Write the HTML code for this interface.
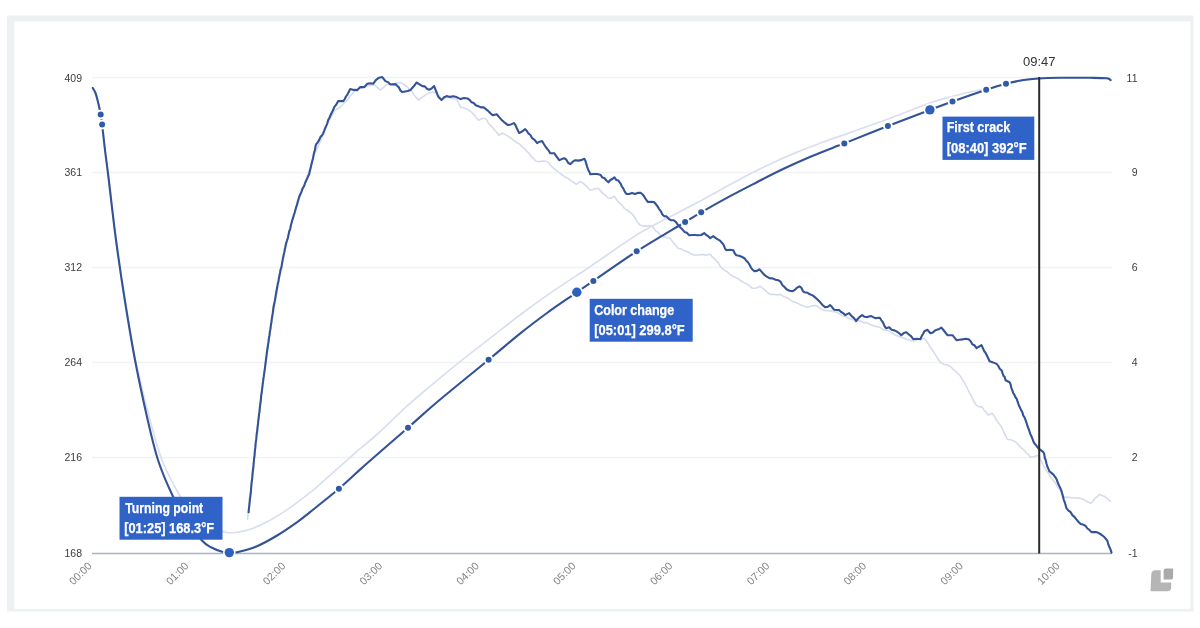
<!DOCTYPE html>
<html><head><meta charset="utf-8"><title>Roast chart</title>
<style>
html,body{margin:0;padding:0;background:#fff;}
body{width:1200px;height:628px;position:relative;overflow:hidden;font-family:"Liberation Sans",sans-serif;}
svg text{font-family:"Liberation Sans",sans-serif;}
.tip{position:absolute;height:43.4px;background:#2e63c8;color:#fff;font-weight:bold;font-size:13px;line-height:20.6px;box-sizing:border-box;padding:0.6px 0 0 5px;letter-spacing:-0.28px;-webkit-text-stroke:0.25px #fff;white-space:nowrap;}
</style></head><body>
<svg width="1200" height="628" viewBox="0 0 1200 628" style="position:absolute;left:0;top:0;filter:blur(0.35px)">
<rect x="7" y="15.5" width="1186.5" height="596" fill="#eef1f2"/>
<rect x="14.3" y="21.5" width="1176" height="587.3" fill="#ffffff"/>
<line x1="92" x2="1112" y1="77.5" y2="77.5" stroke="#f0f2f3" stroke-width="1.6"/>
<line x1="92" x2="1112" y1="172.5" y2="172.5" stroke="#f0f2f3" stroke-width="1.6"/>
<line x1="92" x2="1112" y1="267.5" y2="267.5" stroke="#f0f2f3" stroke-width="1.6"/>
<line x1="92" x2="1112" y1="362.5" y2="362.5" stroke="#f0f2f3" stroke-width="1.6"/>
<line x1="92" x2="1112" y1="457.5" y2="457.5" stroke="#f0f2f3" stroke-width="1.6"/>
<line x1="92" x2="1112" y1="553.5" y2="553.5" stroke="#a9b4c6" stroke-width="1.6"/>
<text x="82" y="81.5" text-anchor="end" font-size="10.5" fill="#3c3c3c">409</text>
<text x="1137.5" y="81.5" text-anchor="end" font-size="10.5" fill="#3c3c3c">11</text>
<text x="82" y="176.4" text-anchor="end" font-size="10.5" fill="#3c3c3c">361</text>
<text x="1137.5" y="176.4" text-anchor="end" font-size="10.5" fill="#3c3c3c">9</text>
<text x="82" y="271.4" text-anchor="end" font-size="10.5" fill="#3c3c3c">312</text>
<text x="1137.5" y="271.4" text-anchor="end" font-size="10.5" fill="#3c3c3c">6</text>
<text x="82" y="366.4" text-anchor="end" font-size="10.5" fill="#3c3c3c">264</text>
<text x="1137.5" y="366.4" text-anchor="end" font-size="10.5" fill="#3c3c3c">4</text>
<text x="82" y="461.4" text-anchor="end" font-size="10.5" fill="#3c3c3c">216</text>
<text x="1137.5" y="461.4" text-anchor="end" font-size="10.5" fill="#3c3c3c">2</text>
<text x="82" y="556.5" text-anchor="end" font-size="10.5" fill="#3c3c3c">168</text>
<text x="1137.5" y="556.5" text-anchor="end" font-size="10.5" fill="#3c3c3c">-1</text>
<text transform="translate(92.5,566.6) rotate(-45)" text-anchor="end" font-size="10.7" fill="#858585">00:00</text>
<text transform="translate(189.3,566.6) rotate(-45)" text-anchor="end" font-size="10.7" fill="#858585">01:00</text>
<text transform="translate(286.1,566.6) rotate(-45)" text-anchor="end" font-size="10.7" fill="#858585">02:00</text>
<text transform="translate(382.9,566.6) rotate(-45)" text-anchor="end" font-size="10.7" fill="#858585">03:00</text>
<text transform="translate(479.7,566.6) rotate(-45)" text-anchor="end" font-size="10.7" fill="#858585">04:00</text>
<text transform="translate(576.5,566.6) rotate(-45)" text-anchor="end" font-size="10.7" fill="#858585">05:00</text>
<text transform="translate(673.3,566.6) rotate(-45)" text-anchor="end" font-size="10.7" fill="#858585">06:00</text>
<text transform="translate(770.1,566.6) rotate(-45)" text-anchor="end" font-size="10.7" fill="#858585">07:00</text>
<text transform="translate(866.9,566.6) rotate(-45)" text-anchor="end" font-size="10.7" fill="#858585">08:00</text>
<text transform="translate(963.7,566.6) rotate(-45)" text-anchor="end" font-size="10.7" fill="#858585">09:00</text>
<text transform="translate(1060.5,566.6) rotate(-45)" text-anchor="end" font-size="10.7" fill="#858585">10:00</text>
<polyline points="247.6,519.3 247.9,516.0 248.3,512.7 248.6,510.4 249.0,506.5 249.3,504.1 249.7,500.9 250.0,498.0 250.3,494.3 250.7,491.8 251.0,488.0 251.3,485.5 251.7,481.8 252.0,478.8 252.3,476.1 252.7,473.6 253.0,470.0 253.3,466.5 253.6,463.6 253.9,461.2 254.2,458.6 254.5,455.1 254.8,451.9 255.1,449.7 255.4,445.4 255.7,443.5 256.0,440.0 256.4,436.5 256.7,433.1 257.1,429.9 257.5,427.0 257.8,424.5 258.2,420.5 258.5,417.8 258.9,414.7 259.3,411.2 259.6,408.2 260.0,405.0 260.4,401.4 260.8,398.4 261.2,395.6 261.6,393.3 262.0,389.9 262.4,386.7 262.8,384.1 263.2,380.9 263.6,377.7 264.0,375.4 264.4,372.3 264.8,368.6 265.2,366.1 265.6,363.0 266.0,360.0 266.5,357.4 266.9,354.2 267.4,350.5 267.8,348.4 268.3,344.1 268.8,341.4 269.2,338.8 269.7,334.9 270.2,332.3 270.6,328.6 271.1,326.4 271.5,323.4 272.0,320.0 272.5,316.9 273.1,314.2 273.6,310.2 274.2,307.5 274.7,304.2 275.3,301.0 275.8,297.7 276.4,295.0 276.9,292.0 277.5,288.1 278.0,285.0 278.6,282.0 279.3,278.0 279.9,275.7 280.5,272.5 281.2,269.8 281.8,266.4 282.5,262.4 283.1,259.4 283.7,256.6 284.4,252.5 285.0,250.0 285.8,246.8 286.6,243.3 287.3,240.1 288.1,236.9 288.9,234.8 289.7,230.8 290.4,227.9 291.2,225.0 292.0,222.0 292.9,219.6 293.8,215.7 294.6,213.3 295.5,210.6 296.4,208.2 297.2,205.2 298.1,202.4 299.0,199.0 300.2,195.7 301.3,192.9 302.5,189.8 303.7,187.5 304.8,184.6 306.0,181.0 306.9,177.6 307.8,174.8 308.6,172.0 309.5,169.1 310.4,166.6 311.2,163.9 312.1,160.5 313.0,158.0 314.4,154.1 315.8,151.5 317.2,148.2 318.6,145.3 320.0,142.0 321.2,139.8 322.3,136.6 323.5,133.5 324.7,130.8 325.8,128.1 327.0,125.0 328.4,121.4 329.9,119.6 331.3,116.5 332.8,113.7 334.2,110.2 337.2,109.1 340.2,107.2 342.9,104.3 345.5,101.7 348.2,99.1 350.2,95.9 352.3,94.0 354.3,91.1 357.6,88.9 361.0,88.0 364.5,86.4 368.0,86.0 371.1,85.1 374.3,85.1 377.3,87.1 380.3,90.1 383.0,87.9 385.7,85.5 388.4,84.1 394.0,84.0 397.2,82.6 400.4,82.5 403.1,83.9 405.7,85.7 408.4,88.1 410.4,90.3 412.4,92.2 414.5,95.8 416.5,97.9 418.5,100.1 421.0,97.9 423.5,96.3 426.0,94.6 428.5,93.1 432.5,92.4 436.5,92.1 438.8,95.0 441.0,99.0 444.5,98.5 448.0,97.0 452.3,98.7 456.6,99.1 457.9,101.8 459.3,104.5 460.6,107.2 463.9,108.0 467.3,109.3 470.6,111.2 472.6,113.2 474.6,115.4 476.7,118.4 478.7,120.2 481.7,118.7 484.7,118.2 486.7,120.0 488.7,123.7 490.7,125.6 492.7,127.5 494.7,130.5 496.7,132.2 498.7,135.3 502.8,133.2 508.0,136.1 511.0,138.2 514.0,140.8 517.0,142.7 520.0,144.2 522.3,146.9 524.6,148.7 526.9,151.3 529.2,153.4 531.5,156.7 533.8,158.8 536.1,161.2 539.5,161.6 542.8,161.0 546.2,161.2 548.5,162.8 550.9,165.7 553.2,167.9 555.5,169.8 557.9,171.7 560.2,173.3 562.9,175.6 565.6,177.3 568.2,178.4 570.9,180.7 573.6,182.3 576.3,184.3 580.3,181.3 582.8,182.9 585.3,185.1 587.8,187.7 590.3,190.3 594.3,189.0 598.3,188.3 600.8,191.1 603.3,193.9 605.9,195.7 608.4,198.3 611.4,197.9 614.4,196.3 616.4,199.4 618.4,201.8 620.4,203.4 622.4,205.6 624.4,208.4 627.1,210.0 629.8,212.0 632.5,214.4 634.5,217.0 636.5,220.6 638.5,223.4 640.0,225.1 643.0,225.9 646.0,226.1 649.0,225.8 652.0,226.1 654.0,228.6 656.0,231.1 658.1,232.3 660.1,235.2 663.4,236.4 666.8,237.8 670.1,238.2 672.1,241.1 674.1,243.6 676.1,245.7 678.1,248.2 681.1,248.9 684.1,250.9 687.2,251.5 690.2,253.3 693.2,254.7 696.2,255.2 699.7,254.8 703.2,254.6 706.7,255.1 710.2,254.2 712.2,256.8 714.2,258.3 716.2,260.6 718.3,262.9 720.3,266.3 722.3,268.4 724.3,270.3 727.0,271.5 729.6,274.1 732.3,276.0 735.0,277.2 737.6,278.4 740.3,280.3 743.3,282.4 746.3,283.8 749.4,285.6 752.4,288.3 756.4,288.0 760.4,286.3 762.9,288.5 765.4,290.4 767.9,293.0 770.4,294.4 773.8,294.3 777.1,294.9 780.5,294.4 783.5,296.6 786.5,297.5 789.5,299.3 792.5,301.4 795.3,302.3 798.1,303.4 801.0,305.1 803.8,305.9 806.6,307.4 810.6,306.3 814.6,305.4 817.9,306.6 821.3,309.3 824.6,310.4 828.4,310.7 832.2,311.4 836.0,312.0 839.0,313.6 842.0,315.6 845.0,316.4 848.0,318.0 851.0,319.4 854.0,319.6 857.1,320.4 860.1,321.1 863.6,322.4 867.0,322.9 870.5,324.7 874.0,326.0 877.0,326.6 880.1,327.4 883.2,329.6 886.2,330.2 889.0,331.1 891.7,332.9 894.5,334.6 897.2,335.7 900.0,337.0 903.0,337.8 906.0,339.0 909.0,340.1 912.0,341.0 915.1,340.7 918.2,339.0 921.3,339.0 924.4,338.2 926.4,340.8 928.4,343.9 930.4,347.6 932.4,350.2 934.4,353.2 936.4,356.3 938.4,359.6 940.4,362.3 943.7,364.2 947.1,364.9 950.4,366.3 952.9,369.0 955.5,371.3 958.0,373.8 960.5,376.3 962.5,379.9 964.5,383.0 966.5,386.4 968.1,390.0 969.7,393.1 971.3,396.0 972.9,399.7 974.5,402.4 976.1,405.1 979.1,406.6 982.1,407.1 984.1,410.4 986.2,412.1 988.2,415.1 992.2,413.1 994.2,416.2 996.2,419.7 998.2,422.6 1000.2,425.1 1001.6,427.4 1003.0,430.2 1004.4,433.5 1005.8,435.8 1007.2,439.2 1010.8,439.8 1014.3,441.2 1016.8,442.9 1019.3,445.9 1021.8,448.3 1024.3,450.2 1026.3,453.1 1028.3,454.4 1030.3,457.2 1034.3,456.5 1038.3,455.2 1039.8,458.4 1041.3,460.8 1042.9,464.8 1044.4,467.3 1046.4,471.0 1048.4,472.9 1050.4,476.9 1052.4,479.3 1054.4,481.9 1056.4,484.8 1058.4,488.2 1060.4,490.3 1062.4,494.3 1064.4,497.4 1067.6,497.1 1070.8,497.7 1074.1,498.0 1077.3,498.0 1080.5,498.4 1083.8,499.6 1087.2,501.5 1090.5,503.4 1092.8,501.5 1095.0,498.2 1097.2,496.7 1099.5,494.4 1104.6,496.4 1107.6,498.8 1110.6,501.4" fill="none" stroke="#d7dcec" stroke-width="1.6" stroke-linejoin="round" stroke-linecap="round"/>
<path d="M92.8,88.0 C93.2,88.8 94.6,90.7 95.5,93.0 C96.4,95.3 97.1,98.4 98.0,102.0 C98.9,105.6 100.0,110.8 100.7,114.6 C101.4,118.4 101.4,118.7 102.1,124.6 C102.8,130.5 103.9,140.8 105.0,150.0 C106.1,159.2 107.0,165.0 108.8,180.0 C110.6,195.0 113.3,220.0 116.0,240.0 C118.7,260.0 121.5,280.0 124.8,300.0 C128.1,320.0 131.3,340.0 135.5,360.0 C139.7,380.0 145.6,403.3 150.0,420.0 C154.4,436.7 157.1,447.5 162.0,460.0 C166.9,472.5 174.1,486.0 179.4,495.0 C184.7,504.0 189.1,508.8 194.0,514.0 C198.9,519.2 203.8,523.0 209.0,526.0 C214.2,529.0 220.5,531.0 224.9,532.1 C229.3,533.2 231.1,533.0 235.6,532.5 C240.1,532.0 245.9,530.9 251.7,528.8 C257.5,526.7 263.9,523.7 270.4,520.1 C276.9,516.5 283.9,512.0 290.5,507.4 C297.1,502.8 305.0,496.6 310.0,492.7 C315.0,488.8 314.2,489.2 320.4,483.8 C326.6,478.4 340.6,466.0 347.2,460.1 C353.8,454.2 354.9,453.1 360.0,448.7 C365.1,444.3 369.7,441.1 377.5,434.0 C385.3,426.9 397.5,414.6 406.9,406.2 C416.2,397.8 424.7,390.9 433.6,383.4 C442.5,375.9 453.7,366.8 460.4,361.4 C467.1,356.0 468.3,355.2 473.8,350.9 C479.3,346.6 485.8,341.6 493.5,335.6 C501.2,329.6 511.4,321.5 520.3,314.8 C529.2,308.1 538.1,301.6 547.0,295.4 C555.9,289.2 567.4,281.6 573.8,277.4 C580.2,273.2 580.8,272.9 585.2,270.0 C589.6,267.1 590.9,265.9 600.1,259.7 C609.3,253.5 626.9,240.9 640.3,232.8 C653.7,224.8 669.9,217.0 680.4,211.4 C690.9,205.8 697.0,202.8 703.1,199.5 C709.2,196.2 710.1,195.6 716.8,191.9 C723.5,188.2 734.6,181.9 743.5,177.2 C752.4,172.5 761.4,168.1 770.3,163.9 C779.2,159.7 788.1,155.8 797.0,152.1 C805.9,148.4 815.0,145.1 823.8,141.8 C832.6,138.6 839.3,136.4 850.0,132.6 C860.7,128.8 874.7,123.9 888.0,119.0 C901.3,114.1 919.3,106.8 930.0,103.0 C940.7,99.2 945.0,98.4 952.0,96.5 C959.0,94.6 965.7,92.9 972.0,91.5 C978.3,90.1 984.3,89.3 990.0,88.0 C995.7,86.7 1000.7,85.0 1006.0,83.7 C1011.3,82.4 1016.6,81.2 1022.0,80.3 C1027.4,79.4 1035.8,78.8 1038.5,78.5" fill="none" stroke="#dadff0" stroke-width="1.7" stroke-linecap="round"/>
<polyline points="248.6,512.3 248.9,508.7 249.2,506.6 249.4,504.4 249.7,501.6 250.0,498.1 250.3,497.0 250.6,494.0 250.9,491.6 251.2,487.4 251.4,485.0 251.7,481.9 252.0,480.0 252.3,477.8 252.5,474.1 252.8,471.2 253.1,469.0 253.4,467.1 253.6,464.2 253.9,460.5 254.2,457.6 254.5,456.2 254.7,452.9 255.0,450.0 255.3,447.7 255.6,443.9 255.9,441.2 256.2,439.7 256.5,436.5 256.8,433.2 257.1,432.1 257.4,428.9 257.7,426.0 258.0,423.8 258.4,419.7 258.7,418.3 259.0,414.1 259.4,412.8 259.7,409.3 260.0,406.3 260.3,403.9 260.7,401.8 261.0,397.9 261.3,394.9 261.7,392.8 262.0,390.0 262.4,386.9 262.7,384.0 263.1,381.4 263.4,378.6 263.8,376.2 264.1,373.8 264.5,371.1 264.8,369.3 265.2,365.8 265.5,363.5 265.9,360.3 266.2,358.0 266.6,354.7 266.9,352.5 267.3,349.4 267.6,348.1 268.0,345.0 268.4,342.5 268.8,339.2 269.1,337.2 269.5,335.4 269.9,331.3 270.3,330.0 270.7,326.7 271.0,324.2 271.4,322.2 271.8,318.8 272.2,316.4 272.6,314.1 272.9,312.1 273.3,308.3 273.7,306.0 274.2,303.8 274.8,300.9 275.3,298.0 275.8,294.8 276.3,292.0 276.9,288.7 277.4,286.1 277.9,283.2 278.4,281.7 278.9,278.1 279.5,275.1 280.0,273.0 280.5,269.7 281.1,268.5 281.6,266.0 282.1,263.0 282.7,259.8 283.2,257.1 283.7,254.7 284.3,252.4 284.8,249.3 285.3,247.2 285.9,244.3 286.4,242.2 287.1,240.3 287.9,237.7 288.6,234.2 289.3,231.0 290.1,229.6 290.8,225.7 291.5,223.1 292.3,219.8 293.0,218.0 293.8,215.2 294.6,212.8 295.3,210.3 296.1,207.2 296.9,205.2 297.7,201.8 298.4,199.7 299.2,196.8 300.0,195.0 301.4,191.8 302.7,188.2 304.1,186.0 305.4,182.2 306.6,179.8 307.9,176.8 309.1,174.4 309.7,171.8 310.4,169.0 311.0,166.6 311.6,163.7 312.3,161.1 312.9,158.7 313.6,155.0 314.2,152.2 314.8,150.6 315.5,146.4 316.1,144.3 317.6,142.5 319.1,140.1 320.6,136.7 322.1,135.3 323.1,133.5 324.1,131.1 325.1,128.2 326.2,125.9 327.2,123.6 328.2,120.0 329.2,118.2 330.4,115.5 331.7,112.7 332.9,110.6 334.2,107.2 336.2,104.7 338.2,101.1 343.2,101.1 344.6,99.3 346.0,96.5 347.4,94.6 348.8,91.8 350.2,89.1 353.8,89.9 357.3,90.1 360.3,87.1 364.3,87.1 367.3,83.7 370.3,83.2 373.3,83.7 375.8,80.1 378.3,78.1 382.3,77.1 385.4,81.1 387.9,82.1 390.4,84.5 395.4,84.1 397.1,85.8 398.9,87.4 400.6,90.7 402.4,92.1 405.1,91.5 407.7,91.0 410.4,90.1 412.4,87.8 414.5,85.4 416.5,82.5 419.5,84.3 422.5,86.1 424.8,86.4 427.2,89.0 429.5,89.7 431.8,88.3 434.1,86.1 435.2,88.9 436.3,91.7 437.4,94.6 438.5,97.1 441.5,100.1 444.1,97.3 446.6,96.1 449.9,96.9 453.3,96.3 456.6,97.1 460.6,99.1 464.1,98.0 467.6,98.5 469.6,99.8 471.6,102.3 473.7,103.0 475.7,105.2 478.4,106.3 481.0,107.4 483.7,107.2 485.9,109.2 488.2,111.0 490.4,113.2 492.7,115.2 496.7,114.2 500.0,118.1 502.0,120.2 504.0,122.1 506.0,123.6 508.0,125.1 511.0,124.4 514.0,123.1 515.3,124.8 516.5,127.5 517.8,130.2 519.1,133.1 522.1,131.5 525.1,129.1 526.9,131.0 528.6,133.7 530.4,135.0 532.1,138.1 534.6,139.8 537.1,143.1 539.6,141.7 542.1,141.1 543.7,143.8 545.3,146.3 547.0,148.7 548.6,150.4 550.2,153.2 554.2,153.2 555.9,155.6 557.5,157.8 559.2,160.2 561.7,159.1 564.2,158.2 566.2,159.5 568.2,162.9 570.2,164.2 572.8,161.7 575.3,160.2 578.3,160.6 581.3,160.1 584.3,158.8 585.3,160.5 586.3,163.9 587.3,167.1 588.3,170.0 589.3,171.6 590.3,174.3 593.6,174.0 597.0,174.0 600.3,174.7 602.3,177.4 604.3,178.0 606.4,180.5 608.4,182.3 610.4,180.0 612.4,179.0 614.4,177.3 616.4,180.1 618.4,180.6 620.4,183.3 621.9,186.5 623.4,188.6 624.9,191.9 626.4,193.9 629.2,194.0 632.0,192.9 634.9,193.9 637.7,192.9 640.5,192.7 642.4,194.2 644.2,196.5 646.1,199.7 648.0,202.0 651.0,201.9 654.0,202.0 655.7,204.0 657.4,206.1 659.0,208.8 660.7,211.1 662.4,214.4 664.1,216.1 666.5,216.4 668.9,219.0 671.3,220.3 673.7,220.2 676.1,222.1 678.1,225.2 680.1,227.2 682.1,229.1 684.5,231.9 686.8,232.8 689.2,235.2 692.2,235.0 695.2,235.0 698.2,235.2 701.2,235.0 704.2,233.1 706.2,235.0 708.2,236.2 710.2,238.2 713.2,236.2 715.5,237.8 717.8,239.3 720.0,240.6 722.3,243.2 723.6,244.8 725.0,248.5 726.3,250.2 729.8,249.8 733.3,250.2 734.8,253.5 736.3,255.2 739.0,255.7 741.7,256.8 744.4,258.2 746.1,260.4 747.7,262.0 749.4,264.5 751.1,267.8 752.7,269.8 754.4,271.3 756.9,270.9 759.4,269.3 761.7,271.9 764.1,274.7 766.4,276.3 769.4,278.1 772.5,278.4 775.5,279.7 778.5,280.3 780.5,281.7 782.5,285.2 784.5,287.0 786.5,289.3 789.5,290.8 792.5,291.3 794.8,289.9 797.2,287.6 799.5,286.3 801.2,287.5 802.9,291.1 804.6,292.3 807.3,292.7 809.9,294.3 812.6,295.4 815.1,297.4 817.5,299.5 820.0,302.1 822.5,305.0 825.0,307.1 827.5,307.0 830.0,305.1 832.0,307.0 834.0,309.7 839.1,310.1 841.1,312.0 843.1,313.1 845.1,315.1 849.1,313.1 850.9,315.2 852.6,316.9 854.4,318.5 856.1,321.1 858.1,318.5 860.1,316.6 862.1,315.1 864.7,316.8 867.2,317.1 871.2,316.1 875.2,318.1 879.8,317.7 881.4,320.3 883.0,322.4 884.6,326.3 886.2,328.2 889.2,327.2 891.6,329.7 894.0,330.3 896.5,331.4 898.9,333.0 901.3,335.2 903.8,333.0 906.3,332.2 908.6,334.2 911.0,336.1 913.3,339.2 916.8,338.7 920.3,339.2 921.7,336.1 923.0,334.0 924.4,331.2 927.4,329.8 930.4,333.2 932.9,332.4 935.4,330.2 938.4,329.3 941.4,327.6 943.4,330.0 945.4,332.5 947.4,335.2 952.5,335.2 954.5,337.7 956.5,340.2 959.5,339.7 962.5,339.4 965.5,338.7 968.5,339.2 970.5,341.0 972.5,344.5 974.5,345.3 976.5,348.2 979.0,346.7 981.5,345.2 982.9,348.1 984.2,351.2 985.5,352.7 986.9,355.5 988.2,358.2 989.6,361.3 993.1,362.4 996.6,363.9 998.3,365.9 999.9,369.0 1001.6,370.3 1002.6,373.4 1003.6,376.0 1004.6,376.9 1005.6,380.3 1009.6,382.3 1010.5,384.0 1011.3,387.8 1012.2,390.0 1013.3,393.2 1014.4,394.9 1015.6,397.5 1016.7,398.9 1017.8,402.1 1018.9,405.5 1020.1,407.8 1021.2,410.3 1022.3,412.1 1023.3,415.6 1024.3,417.0 1025.3,419.4 1026.3,422.1 1027.3,425.5 1028.3,428.1 1029.3,430.9 1030.3,433.9 1031.3,436.0 1032.3,438.4 1033.3,441.2 1034.3,443.2 1036.0,445.1 1037.6,447.3 1039.3,449.2 1043.4,452.2 1044.2,454.1 1044.9,458.2 1045.7,460.0 1046.4,463.2 1047.4,466.7 1048.4,468.9 1049.4,471.3 1051.4,472.9 1053.4,474.6 1055.4,477.3 1056.7,479.6 1057.9,483.0 1059.2,485.9 1060.4,488.3 1061.3,490.4 1062.1,493.2 1063.0,496.8 1063.8,499.8 1064.7,502.2 1065.5,504.8 1066.4,508.1 1068.4,510.6 1070.4,511.9 1072.4,515.1 1074.4,516.9 1076.4,519.4 1078.4,521.7 1080.7,523.9 1083.1,524.6 1085.4,525.7 1087.4,528.5 1089.4,529.9 1091.4,532.1 1096.5,532.1 1099.2,533.3 1101.8,535.0 1104.5,537.2 1107.5,541.2 1108.5,544.9 1109.5,547.3 1110.5,549.4 1111.5,552.6" fill="none" stroke="#345396" stroke-width="2.1" stroke-linejoin="round" stroke-linecap="round"/>
<path d="M92.8,88.0 C93.2,88.8 94.6,90.7 95.5,93.0 C96.4,95.3 97.1,98.4 98.0,102.0 C98.9,105.6 100.0,110.8 100.7,114.6 C101.4,118.4 101.4,118.7 102.1,124.6 C102.8,130.5 103.9,140.8 105.0,150.0 C106.1,159.2 107.0,165.0 108.8,180.0 C110.6,195.0 113.3,220.0 116.0,240.0 C118.7,260.0 121.6,280.0 124.8,300.0 C128.0,320.0 131.2,340.0 135.0,360.0 C138.8,380.0 143.9,403.3 147.7,420.0 C151.5,436.7 153.9,447.4 158.0,460.0 C162.1,472.6 167.7,485.3 172.4,495.3 C177.1,505.3 181.0,512.4 186.0,520.0 C191.0,527.6 197.9,536.2 202.2,540.8 C206.4,545.4 208.2,545.7 211.5,547.5 C214.8,549.3 219.2,550.9 222.2,551.8 C225.2,552.6 226.8,552.5 229.3,552.6 C231.8,552.7 232.4,553.3 237.0,552.2 C241.6,551.1 250.3,549.0 257.0,546.2 C263.7,543.4 270.4,539.5 277.1,535.5 C283.8,531.5 291.7,526.0 297.2,522.1 C302.7,518.2 303.1,517.6 310.0,512.1 C316.9,506.6 330.6,495.9 338.9,488.8 C347.2,481.7 354.5,474.6 360.0,469.6 C365.5,464.6 364.0,466.0 372.0,459.0 C380.0,452.0 397.3,437.0 408.0,427.7 C418.7,418.4 422.6,414.3 436.0,403.0 C449.4,391.7 474.6,371.3 488.6,359.7 C502.7,348.1 510.6,341.2 520.3,333.4 C530.0,325.6 537.6,319.9 547.0,313.0 C556.4,306.1 569.1,297.7 576.8,292.3 C584.5,286.9 583.4,287.7 593.4,280.9 C603.4,274.1 621.4,261.1 636.7,251.3 C652.0,241.5 674.4,228.5 685.1,222.0 C695.9,215.5 693.7,216.6 701.2,212.3 C708.7,208.0 720.8,201.2 730.1,196.2 C739.4,191.2 748.0,186.8 756.9,182.2 C765.8,177.6 774.7,173.0 783.6,168.8 C792.5,164.6 801.5,160.6 810.4,156.8 C819.3,153.0 831.6,148.3 837.2,146.1 C842.9,143.9 835.8,146.8 844.3,143.4 C852.8,140.1 873.6,131.6 887.9,126.0 C902.2,120.4 919.1,114.0 929.9,109.9 C940.7,105.8 943.1,104.8 952.5,101.4 C961.9,98.1 977.3,92.8 986.2,89.8 C995.1,86.8 1000.0,85.3 1006.0,83.7 C1012.0,82.1 1016.6,81.2 1022.0,80.3 C1027.4,79.4 1032.2,78.9 1038.5,78.5 C1044.8,78.1 1051.4,77.9 1060.0,77.8 C1068.6,77.7 1082.2,77.7 1090.0,77.8 C1097.8,77.9 1103.2,77.9 1106.7,78.3 C1110.2,78.7 1110.0,79.8 1110.7,80.1" fill="none" stroke="#345396" stroke-width="2.1" stroke-linecap="round"/>
<circle cx="100.7" cy="114.6" r="4.9" fill="#fff"/><circle cx="100.7" cy="114.6" r="3.0" fill="#2f5aa6"/>
<circle cx="102.1" cy="124.6" r="4.9" fill="#fff"/><circle cx="102.1" cy="124.6" r="3.0" fill="#2f5aa6"/>
<circle cx="338.9" cy="488.8" r="4.9" fill="#fff"/><circle cx="338.9" cy="488.8" r="3.0" fill="#2f5aa6"/>
<circle cx="408" cy="427.7" r="4.9" fill="#fff"/><circle cx="408" cy="427.7" r="3.0" fill="#2f5aa6"/>
<circle cx="488.6" cy="359.7" r="4.9" fill="#fff"/><circle cx="488.6" cy="359.7" r="3.0" fill="#2f5aa6"/>
<circle cx="593.4" cy="280.9" r="4.9" fill="#fff"/><circle cx="593.4" cy="280.9" r="3.0" fill="#2f5aa6"/>
<circle cx="636.7" cy="251.3" r="4.9" fill="#fff"/><circle cx="636.7" cy="251.3" r="3.0" fill="#2f5aa6"/>
<circle cx="685.1" cy="222" r="4.9" fill="#fff"/><circle cx="685.1" cy="222" r="3.0" fill="#2f5aa6"/>
<circle cx="701.2" cy="212.3" r="4.9" fill="#fff"/><circle cx="701.2" cy="212.3" r="3.0" fill="#2f5aa6"/>
<circle cx="844.3" cy="143.4" r="4.9" fill="#fff"/><circle cx="844.3" cy="143.4" r="3.0" fill="#2f5aa6"/>
<circle cx="887.9" cy="126" r="4.9" fill="#fff"/><circle cx="887.9" cy="126" r="3.0" fill="#2f5aa6"/>
<circle cx="952.5" cy="101.4" r="4.9" fill="#fff"/><circle cx="952.5" cy="101.4" r="3.0" fill="#2f5aa6"/>
<circle cx="986.2" cy="89.8" r="4.9" fill="#fff"/><circle cx="986.2" cy="89.8" r="3.0" fill="#2f5aa6"/>
<circle cx="1006" cy="83.7" r="4.9" fill="#fff"/><circle cx="1006" cy="83.7" r="3.0" fill="#2f5aa6"/>
<circle cx="229.3" cy="552.6" r="6.3" fill="#fff"/><circle cx="229.3" cy="552.6" r="4.7" fill="#2d5fbd"/>
<circle cx="576.8" cy="292.3" r="6.3" fill="#fff"/><circle cx="576.8" cy="292.3" r="4.7" fill="#2d5fbd"/>
<circle cx="929.9" cy="109.9" r="6.3" fill="#fff"/><circle cx="929.9" cy="109.9" r="4.7" fill="#2d5fbd"/>
<line x1="1039.2" x2="1039.2" y1="77" y2="553.5" stroke="#2a2a2a" stroke-width="2"/>
<text x="1039.2" y="65.5" text-anchor="middle" font-size="13" fill="#333">09:47</text>
<path d="M1155.5,570.2 H1160.7 V582.6 H1171.2 V587.2 Q1171.2,591.2 1167.2,591.2 H1150.5 L1151.3,574.4 Q1151.5,570.2 1155.5,570.2 Z" fill="#b5b5b5"/>
<path d="M1166,568.6 H1173.1 V577.2 Q1173.1,579.4 1170.9,579.4 H1163.6 V571 Q1163.6,568.6 1166,568.6 Z" fill="#aaaaaa"/>
</svg>
<svg width="1200" height="628" viewBox="0 0 1200 628" style="position:absolute;left:0;top:0;filter:blur(0.35px)">
<rect x="119.5" y="496.8" width="103.0" height="42.9" fill="#2f63c7"/>
<text id="t0_0" x="125.20" y="512.8" font-size="14" font-weight="bold" fill="#fff" stroke="#fff" stroke-width="0.25" textLength="78.00" lengthAdjust="spacingAndGlyphs">Turning point</text>
<text id="t0_1" x="124.20" y="533.2" font-size="14" font-weight="bold" fill="#fff" stroke="#fff" stroke-width="0.25" textLength="89.99" lengthAdjust="spacingAndGlyphs">[01:25] 168.3°F</text>
<rect x="589.7" y="298.8" width="103.0" height="42.9" fill="#2f63c7"/>
<text id="t1_0" x="594.20" y="314.8" font-size="14" font-weight="bold" fill="#fff" stroke="#fff" stroke-width="0.25" textLength="80.00" lengthAdjust="spacingAndGlyphs">Color change</text>
<text id="t1_1" x="594.20" y="335.2" font-size="14" font-weight="bold" fill="#fff" stroke="#fff" stroke-width="0.25" textLength="90.50" lengthAdjust="spacingAndGlyphs">[05:01] 299.8°F</text>
<rect x="942.5" y="116.6" width="91.8" height="43.3" fill="#2f63c7"/>
<text id="t2_0" x="946.70" y="132.2" font-size="14" font-weight="bold" fill="#fff" stroke="#fff" stroke-width="0.25" textLength="63.49" lengthAdjust="spacingAndGlyphs">First crack</text>
<text id="t2_1" x="946.70" y="152.5" font-size="14" font-weight="bold" fill="#fff" stroke="#fff" stroke-width="0.25" textLength="79.99" lengthAdjust="spacingAndGlyphs">[08:40] 392°F</text>
</svg>
</body></html>
